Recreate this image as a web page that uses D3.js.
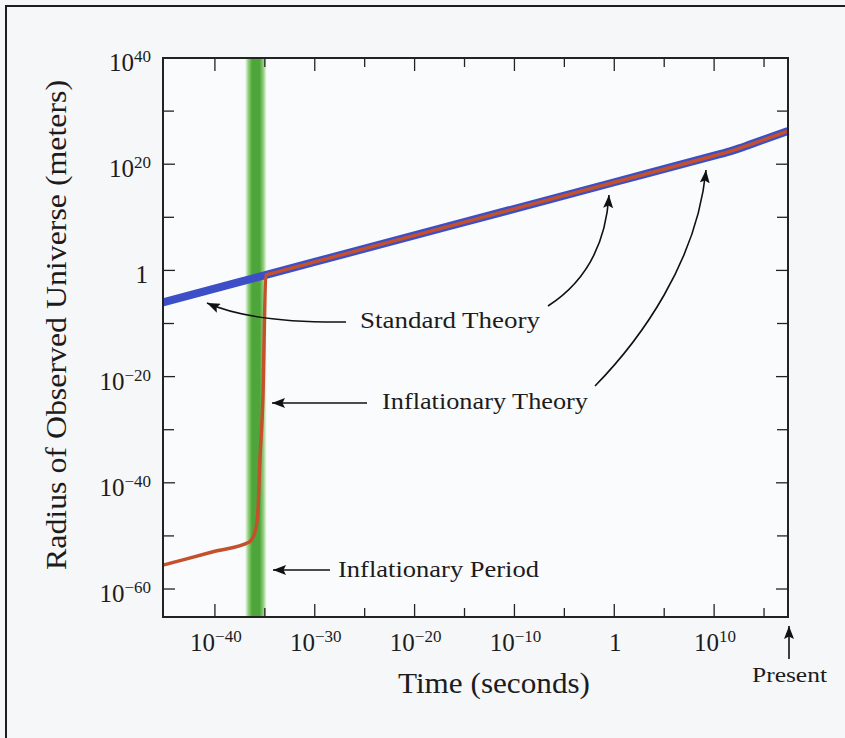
<!DOCTYPE html>
<html>
<head>
<meta charset="utf-8">
<script src="https://cdn.jsdelivr.net/npm/d3@7/dist/d3.min.js"></script>
<style>
  html, body { margin: 0; padding: 0; background: #f6f7f9; }
  svg { display: block; }
</style>
</head>
<body>
<svg id="chart" width="845" height="738"></svg>
<script>
// ---- data (log10 exponents) ----
const xDomainExp = [-45.2, 17.4];          // time, seconds
const yDomainExp = [-65.27, 40];           // radius, meters
const xMajorExp = [-40, -30, -20, -10, 0, 10];
const xMinorExp = [-35, -25, -15, -5, 5, 15];
const yMajorExp = [40, 20, 0, -20, -40, -60];
const yMinorExp = [30, 10, -10, -30, -50];

const standardLogT = [-45.2, -30, 0, 10, 11.5, 12.5, 13.5, 15, 17.4];
const standardLogR = [-6.0, 1.6, 16.6, 21.6, 22.38, 22.98, 23.64, 24.64, 26.25];

const inflationLogT = [-45.2, -40, -36.6, -36.2, -35.9, -35.7, -35.5, -35.2, -34.9, -34.5, -30, -20, 0, 10, 11.5, 12.5, 13.5, 15, 17.4];
const inflationLogR = [-55.5, -52.9, -51.2, -50.3, -48.6, -45.6, -36.0, -24.4, -0.85, -0.65, 1.6, 6.6, 16.6, 21.6, 22.38, 22.98, 23.64, 24.64, 26.25];

const inflationPeriodExp = [-37.0, -34.8];

const labels = {
  x: "Time (seconds)",
  y: "Radius of Observed Universe (meters)",
  standard: "Standard Theory",
  inflationary: "Inflationary Theory",
  period: "Inflationary Period",
  present: "Present"
};

// ---- layout ----
const FONT = "'Liberation Serif', 'Times New Roman', serif";
const P = { left: 163, right: 788, top: 58, bottom: 617 };
const p10 = e => Math.pow(10, e);

const x = d3.scaleLog().domain(xDomainExp.map(p10)).range([P.left, P.right]);
const y = d3.scaleLog().domain(yDomainExp.map(p10)).range([P.bottom, P.top]);

const svg = d3.select("#chart").attr("font-family", FONT);
svg.append("rect").attr("width", 845).attr("height", 738).attr("fill", "#f6f7f9");
// outer frame (open to the right/bottom, as in the scan)
svg.append("rect").attr("x", 6).attr("y", 6).attr("width", 900).attr("height", 900)
  .attr("fill", "none").attr("stroke", "#1e1e1e").attr("stroke-width", 2);

const defs = svg.append("defs");
const grad = defs.append("linearGradient").attr("id", "band").attr("x1", "0%").attr("x2", "100%");
[[0, "#a9dc96", 0], [0.14, "#8fcf78", 0.9], [0.32, "#4ea63b", 1], [0.68, "#4ea63b", 1], [0.86, "#8fcf78", 0.9], [1, "#a9dc96", 0]]
  .forEach(([o, c, a]) => grad.append("stop").attr("offset", o).attr("stop-color", c).attr("stop-opacity", a));

defs.append("marker").attr("id", "ah").attr("markerUnits", "userSpaceOnUse")
  .attr("markerWidth", 14).attr("markerHeight", 10).attr("refX", 13).attr("refY", 5)
  .attr("orient", "auto")
  .append("path").attr("d", "M0,0 L13,5 L0,10 L2.5,5 Z").attr("fill", "#111");

// plot background
svg.append("rect").attr("x", P.left).attr("y", P.top)
  .attr("width", P.right - P.left).attr("height", P.bottom - P.top).attr("fill", "#fafbfc");

// inflationary period band
svg.append("rect")
  .attr("x", x(p10(inflationPeriodExp[0])))
  .attr("y", P.top)
  .attr("width", x(p10(inflationPeriodExp[1])) - x(p10(inflationPeriodExp[0])))
  .attr("height", P.bottom - P.top)
  .attr("fill", "url(#band)");

const line = d3.line().x(d => x(p10(d[0]))).y(d => y(p10(d[1]))).curve(d3.curveMonotoneX);

svg.append("path").datum(standardLogT.map((t, i) => [t, standardLogR[i]]))
  .attr("d", line).attr("fill", "none").attr("stroke", "#3d4fc6").attr("stroke-width", 8);

svg.append("path").datum(inflationLogT.map((t, i) => [t, inflationLogR[i]]))
  .attr("d", line).attr("fill", "none").attr("stroke", "#c4502c").attr("stroke-width", 3.5)
  .attr("stroke-linejoin", "round");

// ---- axes (ticks inside on all four sides) ----
const tk = svg.append("g").attr("stroke", "#222").attr("stroke-width", 1.3);
function xTicks(list, len) {
  list.forEach(e => {
    const xx = x(p10(e));
    tk.append("line").attr("x1", xx).attr("x2", xx).attr("y1", P.bottom).attr("y2", P.bottom - len);
    tk.append("line").attr("x1", xx).attr("x2", xx).attr("y1", P.top).attr("y2", P.top + len);
  });
}
function yTicks(list, len) {
  list.forEach(e => {
    const yy = y(p10(e));
    tk.append("line").attr("y1", yy).attr("y2", yy).attr("x1", P.left).attr("x2", P.left + len);
    tk.append("line").attr("y1", yy).attr("y2", yy).attr("x1", P.right).attr("x2", P.right - len);
  });
}
xTicks(xMajorExp, 13); xTicks(xMinorExp, 9);
yTicks(yMajorExp, 12); yTicks(yMinorExp, 11);

svg.append("rect").attr("x", P.left).attr("y", P.top)
  .attr("width", P.right - P.left).attr("height", P.bottom - P.top)
  .attr("fill", "none").attr("stroke", "#222").attr("stroke-width", 2);

function powLabel(sel, e) {
  if (e === 0) { sel.text("1"); return; }
  sel.append("tspan").text("10");
  sel.append("tspan").attr("dy", -9).attr("font-size", 17)
    .text((e < 0 ? "\u2212" : "") + Math.abs(e));
}
function txt() {
  return svg.append("text").attr("font-family", FONT).attr("fill", "#1c1c1c");
}
xMajorExp.forEach(e => {
  const t = txt().attr("x", x(p10(e)) + 1).attr("y", 651)
    .attr("text-anchor", "middle").attr("font-size", 25);
  powLabel(t, e);
});
yMajorExp.forEach(e => {
  const t = txt().attr("x", e === 0 ? 148 : 151).attr("y", y(p10(e)) + 13)
    .attr("text-anchor", "end").attr("font-size", 25);
  powLabel(t, e);
});

// axis titles
txt().attr("x", 494).attr("y", 693).attr("text-anchor", "middle")
  .attr("font-size", 30).attr("textLength", 192).attr("lengthAdjust", "spacingAndGlyphs")
  .text(labels.x);
txt().attr("transform", "translate(66,325) rotate(-90)").attr("text-anchor", "middle")
  .attr("font-size", 29).attr("textLength", 490).attr("lengthAdjust", "spacingAndGlyphs")
  .text(labels.y);

// annotations
function ann(s, x0, x1, base, size) {
  txt().attr("x", x0).attr("y", base).attr("font-size", size)
    .attr("textLength", x1 - x0).attr("lengthAdjust", "spacingAndGlyphs").text(s);
}
ann(labels.standard, 360, 540, 328, 24);
ann(labels.inflationary, 382, 588, 409, 24);
ann(labels.period, 338, 539, 577, 24);
ann(labels.present, 752, 827, 682, 21);

const arrows = svg.append("g").attr("fill", "none").attr("stroke", "#111").attr("stroke-width", 1.6)
  .attr("marker-end", "url(#ah)");
arrows.append("path").attr("d", "M346,322 Q252,323 207,303");
arrows.append("path").attr("d", "M548,306 Q604,270 609,195");
arrows.append("path").attr("d", "M595,386 C640,340 697,262 706,170");
arrows.append("path").attr("d", "M367,403 L272,403");
arrows.append("path").attr("d", "M330,570 L273,570");
arrows.append("path").attr("d", "M789,659 L789,626");
</script>
</body>
</html>
